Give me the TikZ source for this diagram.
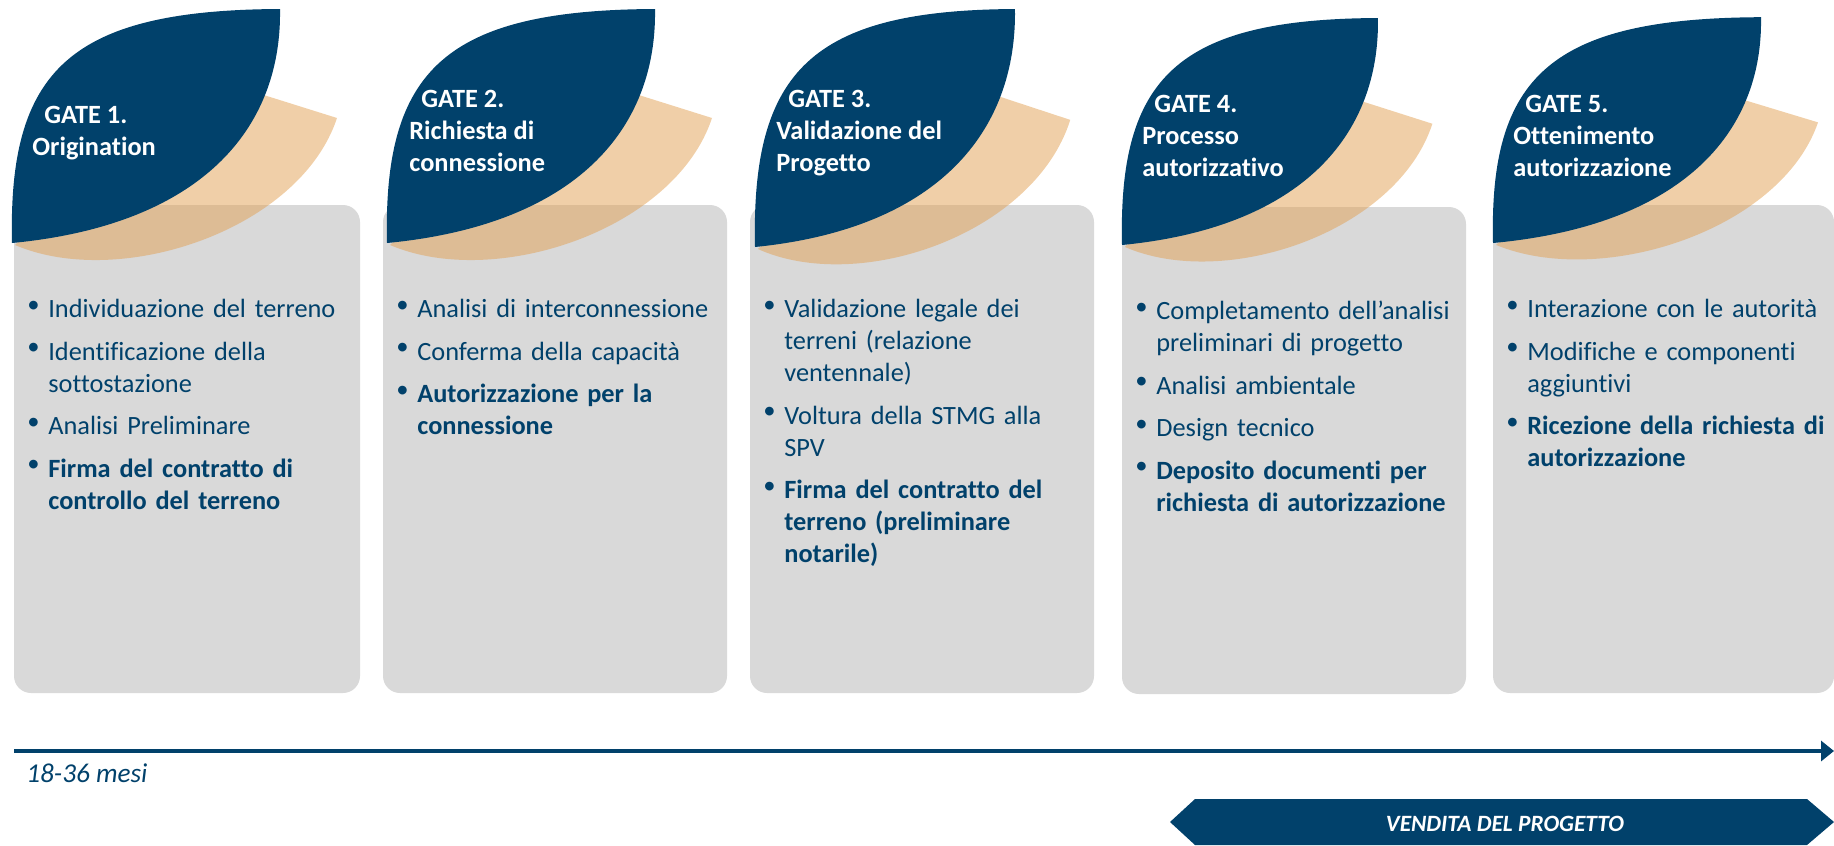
\documentclass[tikz,border=0pt]{standalone}
\usepackage{fontspec}
\setmainfont{Carlito}[Ligatures=CommonOff]
\usepackage{tikz}
\usetikzlibrary{arrows.meta}
\usetikzlibrary{positioning}
\definecolor{gblue}{RGB}{1, 65, 107}
\definecolor{gtan}{RGB}{226, 160, 82}
\definecolor{ggray}{RGB}{217, 217, 217}
\newcommand{\blt}{\makebox[0.42cm][l]{\raisebox{0.11cm}{\fontsize{14}{14}\selectfont\textbullet}}}
\newcommand{\gitem}[1]{\par\let\\\newline\hangindent=0.42cm\hangafter=1\noindent\blt\strut#1\par}
\tikzset{panel/.style = {fill=ggray, rounded corners=0.34cm},
         gatetitle/.style = {anchor=north west, inner sep=0, align=left, text=white,
                             font=\fontsize{15}{18.2}\selectfont\bfseries},
         itemlist/.style = {anchor=north west, inner sep=0, text width=6.6cm, align=left,
                            text=gblue, font=\fontsize{15}{18.2}\selectfont,
                            execute at begin node={\setlength{\parskip}{0.21cm}}},
         timeline/.style = {draw=gblue, line width=0.066cm,
                            -{Triangle[length=0.26cm, width=0.4cm]}},
         span/.style = {anchor=base west, inner sep=0, text=gblue,
                        font=\fontsize{15.5}{18}\selectfont\itshape},
         banner/.style = {anchor=base, inner sep=0, text=white,
                          font=\fontsize{13.3}{16}\selectfont\bfseries\itshape},
         pics/leaf/.style = {code={
           \fill [gtan, opacity=0.5] (3,2) -- (188,-168) -- (325,-125)
                 .. controls (288,-13) and (108,47) .. (3,2);
           \fill [gblue] (0,0) .. controls (-4,-173) and (58,-233) .. (268,-234)
                 .. controls (270,-113) and (188,-18) .. (0,0);}}}

\begin{document}
\begin{tikzpicture}[x=0.02cm, y=-0.02cm]
    \useasboundingbox (0,0) rectangle (1834,845);

    % gate 1
    \begin{scope}[shift={(14,0)}]
      \fill [panel] (0,205) rectangle (346,693);
      \pic at (-2,243) {leaf};
      \node [gatetitle] (gate1) at (18,100.6) {\strut\hspace*{0.24cm}GATE 1.\\Origination};
      \node [itemlist] (list1) at (13,275.1) {%
        \gitem{Individuazione del terreno}
        \gitem{Identificazione della\\sottostazione}
        \gitem{Analisi Preliminare}
        \gitem{\bfseries Firma del contratto di\\controllo del terreno}};
    \end{scope}
    % gate 2
    \begin{scope}[shift={(383,0)}]
      \fill [panel] (0,205) rectangle (344,693);
      \pic at (4,243) {leaf};
      \node [gatetitle] (gate2) at (26,84.6) {\strut\hspace*{0.24cm}GATE 2.\\Richiesta di\\connessione};
      \node [itemlist] (list2) at (13,275.1) {%
        \gitem{Analisi di interconnessione}
        \gitem{Conferma della capacità}
        \gitem{\bfseries Autorizzazione per la\\connessione}};
    \end{scope}
    % gate 3
    \begin{scope}[shift={(750,0)}]
      \fill [panel] (0,205) rectangle (344,693);
      \pic [xscale=0.97, yscale=1.017] at (5,247) {leaf};
      \node [gatetitle] (gate3) at (26,84.6) {\strut\hspace*{0.24cm}GATE 3.\\Validazione del\\Progetto};
      \node [itemlist] (list3) at (13,275.1) {%
        \gitem{Validazione legale dei\\terreni (relazione\\ventennale)}
        \gitem{Voltura della STMG alla\\SPV}
        \gitem{\bfseries Firma del contratto del\\terreno (preliminare\\notarile)}};
    \end{scope}
    % gate 4
    \begin{scope}[shift={(1122,0)}]
      \fill [panel] (0,207) rectangle (344,694);
      \pic [xscale=0.955, yscale=0.97] at (0,245) {leaf};
      \node [gatetitle] (gate4) at (20,89.6) {\strut\hspace*{0.24cm}GATE 4.\\Processo\\autorizzativo};
      \node [itemlist] (list4) at (13,277.1) {%
        \gitem{Completamento dell’analisi\\preliminari di progetto}
        \gitem{Analisi ambientale}
        \gitem{Design tecnico}
        \gitem{\bfseries Deposito documenti per\\richiesta di autorizzazione}};
    \end{scope}
    % gate 5
    \begin{scope}[shift={(1493,0)}]
      \fill [panel] (0,205) rectangle (341,693);
      \pic [yscale=0.965] at (0,243) {leaf};
      \node [gatetitle] (gate5) at (20,89.6) {\strut\hspace*{0.24cm}GATE 5.\\Ottenimento\\autorizzazione};
      \node [itemlist] (list5) at (13,275.1) {%
        \gitem{Interazione con le autorità}
        \gitem{Modifiche e componenti\\aggiuntivi}
        \gitem{\bfseries Ricezione della richiesta di\\autorizzazione}};
    \end{scope}

    % timeline
    \coordinate (tstart) at (14,751);
    \coordinate (tend) at (1834,751);
    \draw [timeline] (tstart) -- (tend);
    \node [span] (months) at (26,782) {18-36 mesi};

    \fill [gblue] (1170,822) -- (1195,799) -- (1807,799) -- (1834,822)
                  -- (1807,845) -- (1195,845) -- cycle;
    \node [banner] (sale) at (1505,831) {VENDITA DEL PROGETTO};
\end{tikzpicture}
\end{document}
